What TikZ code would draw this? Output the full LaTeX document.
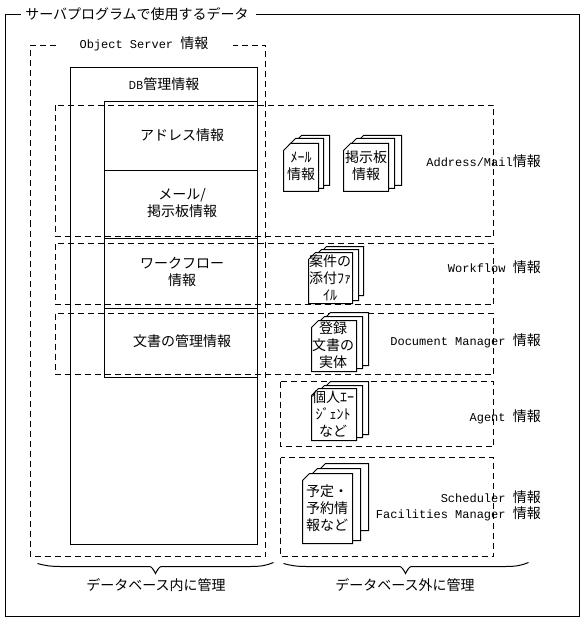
\documentclass[tikz,border=0pt]{standalone}
\usepackage{fontspec}
\newfontfamily\cjk{Noto Sans CJK JP}
\newfontfamily\mn{Liberation Mono}
\newcommand\mm[1]{{\mn\fontsize{12}{17}\selectfont #1}}
\newcommand\sheet[4]{\draw[sheetline] (#1,#2+7) -- (#1+7,#2) -- (#3,#2) -- (#3,#4) -- (#1,#4) -- cycle;}
\newcommand\stackdoc[9]{%
 \pgfmathsetmacro\sheetw{#3-#1}%
 \pgfmathsetmacro\sheetax{#7-\sheetw}\pgfmathsetmacro\sheetbx{#5-\sheetw}%
 \sheet{\sheetax}{#8}{#7}{#9}\sheet{\sheetbx}{#6}{#5}{#4-3}\sheet{#1}{#2}{#3}{#4}}
\tikzset{
 sheetline/.style={draw=black,fill=white,line width=1pt,line join=miter,xshift=.5pt,yshift=-.5pt},
 frameline/.style={draw=black,line width=1pt,xshift=.5pt,yshift=-.5pt},
 dashbox/.style={draw=black,line width=1pt,dash pattern=on 6pt off 4pt,xshift=.5pt,yshift=-.5pt},
 lbl/.style={font=\cjk\fontsize{14}{17}\selectfont,align=center,inner sep=0pt,text=black},
 rlbl/.style={lbl,anchor=east},
}
\begin{document}
\begin{tikzpicture}[x=1pt,y=-1pt]
\useasboundingbox[fill=white] (0,0) rectangle (585,620);
% outer frame
\draw[frameline] (20,14) -- (5,14) -- (5,616) -- (579,616) -- (579,14) -- (255,14);
\node[lbl] (title) at (137,14) {サーバプログラムで使用するデータ};
% DB box
\draw[frameline] (70,67) rectangle (257,544);
\draw[frameline] (104,101) rectangle (257,377);
\draw[frameline] (104,170) -- (257,170);
\draw[frameline] (104,238) -- (257,238);
\draw[frameline] (104,308) -- (257,308);
% dashed
\draw[dashbox] (55,45) -- (30,45) -- (30,556) -- (265,556) -- (265,45) -- (232,45);
\draw[dashbox] (55,105) rectangle (493,236);
\draw[dashbox] (55,243) rectangle (493,304);
\draw[dashbox] (55,313) rectangle (493,374);
\draw[dashbox] (280,381) rectangle (493,446);
\draw[dashbox] (280,457) rectangle (493,556);
% stacks
\stackdoc{283}{143}{318}{191}{323}{138}{329}{135}{185}
\stackdoc{343}{143}{388}{191}{394}{138}{401}{135}{185}
\stackdoc{308}{252}{352}{303}{358}{249}{363}{246}{295}
\stackdoc{311}{320}{356}{371}{362}{316}{368}{312}{365}
\stackdoc{311}{388}{356}{440}{362}{385}{368}{381}{434}
\stackdoc{302}{473}{352}{543}{360}{468}{368}{463}{530}
% labels
\node[lbl] (obj) at (144,44) {\mm{Object Server }情報};
\node[lbl] (db) at (164,84) {{\fontsize{11}{17}\selectfont DB}管理情報};
\node[lbl] (addr) at (182,135) {アドレス情報};
\node[lbl] (mail) at (182,203) {メール/\\掲示板情報};
\node[lbl] (wf) at (182,272) {ワークフロー\\情報};
\node[lbl] (doc) at (182,341) {文書の管理情報};
\node[lbl] (s1) at (301,166) {ﾒｰﾙ\\情報};
\node[lbl] (s2) at (366,166) {掲示板\\情報};
\node[lbl] (s3) at (330,278) {案件の\\添付ﾌｧ\\ｲﾙ};
\node[lbl] (s4) at (333,345) {登録\\文書の\\実体};
\node[lbl] (s5) at (333,414) {個人ｴｰ\\ｼﾞｪﾝﾄ\\など};
\node[lbl] (s6) at (327,508) {予定・\\予約情\\報など};
\node[rlbl] (r1) at (541,161) {\mm{Address/Mail}情報};
\node[rlbl] (r2) at (541,267) {\mm{Workflow }情報};
\node[rlbl] (r3) at (541,341) {\mm{Document Manager }情報};
\node[rlbl] (r4) at (541,417) {\mm{Agent }情報};
\node[rlbl] (r5) at (541,497) {\mm{Scheduler }情報};
\node[rlbl] (r6) at (541,514) {\mm{Facilities Manager }情報};
% braces
\draw[frameline] (37,563) .. controls (44,565) and (50,566) .. (60,566) -- (149,566) .. controls (151,566) and (153,569) .. (155,573) .. controls (157,569) and (159,566) .. (161,566) -- (250,566) .. controls (260,566) and (266,565) .. (273,562);
\draw[frameline] (283,563) .. controls (290,565) and (296,566) .. (306,566) -- (399,566) .. controls (401,566) and (403,569) .. (405,573) .. controls (407,569) and (409,566) .. (411,566) -- (505,566) .. controls (515,566) and (521,565) .. (528,562);
\node[lbl] (in) at (156,585) {データベース内に管理};
\node[lbl] (out) at (405,585) {データベース外に管理};
\end{tikzpicture}
\end{document}
